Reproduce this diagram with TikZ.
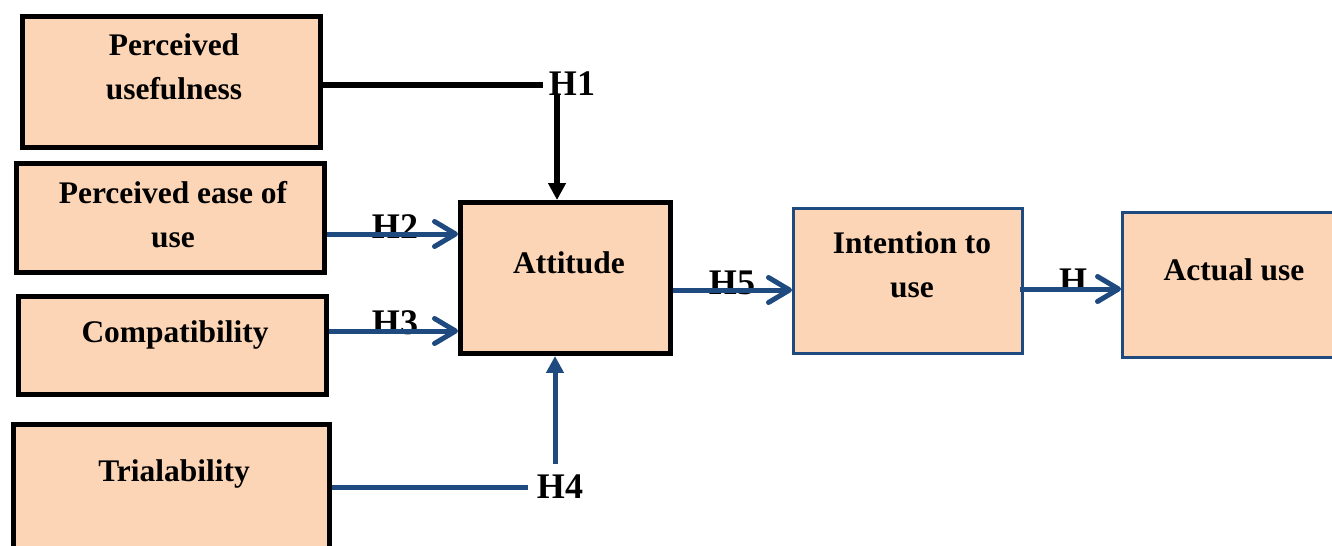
\documentclass[tikz,border=0pt]{standalone}
\usepackage{fontspec}
\setmainfont{Liberation Serif}
\usetikzlibrary{arrows.meta, positioning}
\definecolor{peach}{HTML}{FBD5B5}
\definecolor{linkblue}{HTML}{1F4A7F}

\begin{document}
\begin{tikzpicture}[x=0.02cm, y=-0.02cm,
    box/.style={draw, fill=peach, rectangle, inner sep=0pt},
    blackbox/.style={box, line width=0.1cm},
    bluebox/.style={box, draw=linkblue, line width=0.06cm},
    boxtext/.style={anchor=base, align=center, inner sep=0pt, font=\fontsize{17.9pt}{24.7pt}\selectfont\bfseries},
    hyp/.style={anchor=base, inner sep=0pt, font=\fontsize{20.5pt}{24pt}\selectfont\bfseries},
    link/.style={draw=linkblue, line width=0.1cm},
    barb/.style={link, -{Straight Barb[length=0.42cm, width=0.5cm, round]}},
    tri/.style={-{Triangle[length=0.34cm, width=0.34cm]}}]
    \clip (0,0) rectangle (1332,545);
    % boxes
    \node[blackbox, minimum width=5.96cm, minimum height=2.62cm] (pu) at (171.5,82) {};
    \node[blackbox, minimum width=6.16cm, minimum height=2.18cm] (peou) at (170.5,218) {};
    \node[blackbox, minimum width=6.16cm, minimum height=1.96cm] (comp) at (172.5,345.5) {};
    \node[blackbox, minimum width=6.32cm, minimum height=3.5cm] (trial) at (171.5,512) {};
    \node[blackbox, minimum width=4.2cm, minimum height=3.02cm] (att) at (565.5,278) {};
    \node[bluebox, minimum width=4.58cm, minimum height=2.9cm] (int) at (908,281) {};
    \node[bluebox, minimum width=5.54cm, minimum height=2.9cm] (act) at (1261,285) {};
    % box texts (base = last line)
    \node[boxtext] (pu-text) at (174,99) {Perceived\\usefulness};
    \node[boxtext] (peou-text) at (173,247) {Perceived ease of\\use};
    \node[boxtext] (comp-text) at (175,342) {Compatibility};
    \node[boxtext] (trial-text) at (174,481) {Trialability};
    \node[boxtext] (att-text) at (569,273) {Attitude};
    \node[boxtext] (int-text) at (912,297) {Intention to\\use};
    \node[boxtext] (act-text) at (1234,280) {Actual use};
    % hypotheses
    \node[hyp] (h1) at (572,95) {H1};
    \node[hyp] (h2) at (395,238) {H2};
    \node[hyp] (h3) at (395,334) {H3};
    \node[hyp] (h4) at (560,498) {H4};
    \node[hyp] (h5) at (732,294) {H5};
    \node[hyp] (h6) at (1073,292) {H};
    \coordinate (h1a) at (543,85);
    \coordinate (h4a) at (528,487);
    \coordinate (h4b) at (555,464);
    % connectors
    \draw[line width=0.11cm] (pu.east |- h1a) -- (h1a);
    \draw[line width=0.11cm, tri] ([xshift=-0.3cm]h1.south) -- ([xshift=-0.3cm]h1.south |- att.north);
    \draw[barb] (peou.east |- 0,234) -- (att.west |- 0,234);
    \draw[barb] (comp.east |- 0,331) -- (att.west |- 0,331);
    \draw[link] (trial.east |- h4a) -- (h4a);
    \draw[link, tri] (h4b) -- (h4b |- att.south);
    \draw[barb] (att.east |- 0,290) -- (int.west |- 0,290);
    \draw[barb] ([xshift=-0.08cm]int.east |- 0,289) -- (act.west |- 0,289);
\end{tikzpicture}
\end{document}
